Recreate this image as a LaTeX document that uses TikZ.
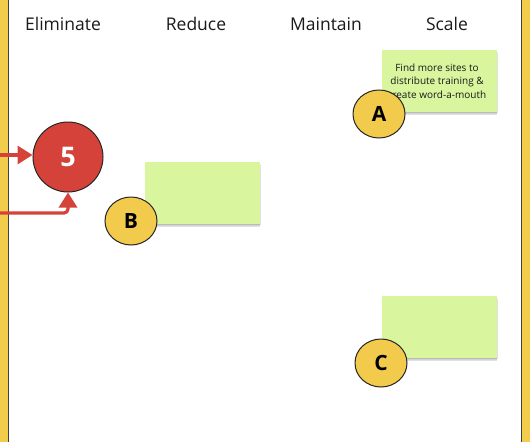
\documentclass[tikz,border=0pt]{standalone}
\usepackage{fontspec}
\setmainfont{Open Sans}
\usetikzlibrary{arrows.meta,shapes.geometric,calc}
\definecolor{frameyellow}{HTML}{F2CD4C}
\definecolor{badgeyellow}{HTML}{F2CA4C}
\definecolor{stickygreen}{HTML}{D9F59E}
\definecolor{redbadge}{HTML}{D5423A}
\definecolor{headtext}{HTML}{1A1A1A}
\tikzset{
  header/.style={font=\fontsize{17.5}{20}\selectfont, text=headtext, anchor=center},
  sticky/.style={fill=stickygreen, minimum width=115pt, minimum height=62pt, inner sep=0pt, anchor=north west},
  badge/.style={ellipse, draw=black!85, line width=1pt, fill=badgeyellow, minimum width=52pt, minimum height=48pt, inner sep=0pt,
     font=\bfseries\fontsize{21}{23}\selectfont, text=black},
  redarrow/.style={draw=redbadge, line width=3.2pt, -{Triangle[length=15pt,width=18pt]}, rounded corners=4pt},
  softshadow/.style={fill=black, opacity=0.06},
}
\newcommand{\stickyshadow}[2]{%
  \foreach \k in {0,1,2,3,4}{
    \fill[softshadow] ($(#1)+(2+\k*0.3,2+\k*0.8)$) rectangle ($(#2)+(1-\k*0.3,0.5+\k*0.7)$);
  }}
\begin{document}
\begin{tikzpicture}[x=1pt,y=-1pt]
\useasboundingbox (0,0) rectangle (530,442);
\fill[white] (0,0) rectangle (530,442);
% frame
\fill[frameyellow] (0,0) rectangle (7.5,442);
\fill[frameyellow] (521.5,0) rectangle (530,442);
\draw[black!75, line width=1pt] (8,0) -- (8,442);
\draw[black!75, line width=1pt] (521,0) -- (521,442);
% headers
\node[header] (h1) at (63,24) {Eliminate};
\node[header] (h2) at (196,24) {Reduce};
\node[header] (h3) at (326,24) {Maintain};
\node[header] (h4) at (447,24) {Scale};
% sticky shadows
\stickyshadow{382,50}{497,112}
\stickyshadow{145,162}{260,224}
\stickyshadow{382,296}{497,358}
% stickies
\node[sticky] (sa) at (382,50) {};
\node[font=\fontsize{10}{13.5}\selectfont, text=black!90, align=center] (ta) at (437,81) {Find more sites to\\distribute training \&\\create word-a-mouth};
\node[sticky] (sb) at (145,162) {};
\node[sticky] (sc) at (382,296) {};
% badges
\node[badge] (a) at (379,114) {A};
\node[badge] (b) at (131,221) {B};
\node[badge] (c) at (381,363) {C};
% red circle
\node[circle, draw=black!85, line width=1pt, fill=redbadge, minimum size=70pt, inner sep=0pt,
      font=\bfseries\fontsize{27}{29}\selectfont, text=white] (five) at (68,157) {5};
\coordinate (in1) at (0,155);
\coordinate (in2) at (0,213);
\draw[redarrow] (in1) -- (five.west |- in1);
\draw[redarrow] (in2) -- (five.south |- in2) -- (five.south);
\end{tikzpicture}
\end{document}
